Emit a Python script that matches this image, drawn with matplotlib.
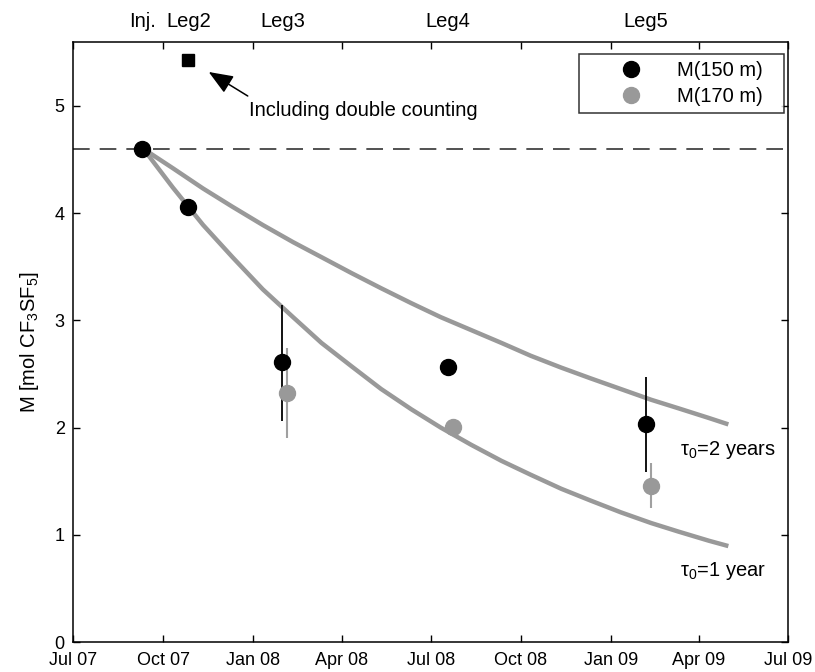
import numpy as np
import matplotlib
matplotlib.use("Agg")
import matplotlib.pyplot as plt
import matplotlib.dates as mdates
import matplotlib.transforms as mtransforms

plt.rcParams['font.family'] = ['Liberation Sans', 'DejaVu Sans']
plt.rcParams['mathtext.fontset'] = 'custom'
plt.rcParams['mathtext.rm'] = 'Liberation Sans'
plt.rcParams['mathtext.it'] = 'Liberation Sans:italic'

# --- data ---
inj_value = 4.6

leg_names = ["Inj.", "Leg2", "Leg3", "Leg4", "Leg5"]
leg_dates = ["2007-09-10", "2007-10-27", "2008-01-31", "2008-07-18", "2009-02-06"]

m150_dates = ["2007-09-10", "2007-10-27", "2008-01-31", "2008-07-18", "2009-02-06"]
m150_vals = [4.60, 4.06, 2.61, 2.57, 2.03]
m150_lo = [np.nan, np.nan, 2.06, np.nan, 1.59]
m150_hi = [np.nan, np.nan, 3.14, np.nan, 2.47]

m170_dates = ["2008-02-05", "2008-07-23", "2009-02-11"]
m170_vals = [2.32, 2.01, 1.46]
m170_lo = [1.90, np.nan, 1.25]
m170_hi = [2.74, np.nan, 1.67]

double_date = "2007-10-27"
double_value = 5.43

# model curves
curve_dates = ["2007-09-11", "2007-10-11", "2007-11-11", "2007-12-11", "2008-01-11",
               "2008-02-11", "2008-03-11", "2008-04-11", "2008-05-11", "2008-06-11",
               "2008-07-11", "2008-08-11", "2008-09-11", "2008-10-11", "2008-11-11",
               "2008-12-11", "2009-01-11", "2009-02-11", "2009-03-11", "2009-04-11",
               "2009-05-01"]
tau1_vals = [4.60, 4.24, 3.89, 3.59, 3.29, 3.03, 2.79, 2.57, 2.36, 2.17, 2.00,
             1.84, 1.69, 1.56, 1.43, 1.32, 1.21, 1.11, 1.03, 0.945, 0.895]
tau2_vals = [4.60, 4.42, 4.23, 4.06, 3.89, 3.73, 3.59, 3.44, 3.30, 3.16, 3.03,
             2.91, 2.79, 2.67, 2.56, 2.46, 2.36, 2.26, 2.18, 2.09, 2.03]

tick_dates = ["2007-07-01", "2007-10-01", "2008-01-01", "2008-04-01", "2008-07-01",
              "2008-10-01", "2009-01-01", "2009-04-01", "2009-07-01"]


def d(lst):
    return np.array(lst, dtype="datetime64[D]")


grey = "#999999"
fs = 14.5

fig = plt.figure(figsize=(8.15, 6.72), dpi=100)
ax = fig.add_axes([0.0896, 0.0446, 0.8773, 0.8934])

ax.axhline(inj_value, color="#333333", lw=1.2, ls=(0, (10, 6)), zorder=1)

ax.plot(d(curve_dates), tau2_vals, color=grey, lw=3.2, solid_capstyle="butt", zorder=2)
ax.plot(d(curve_dates), tau1_vals, color=grey, lw=3.2, solid_capstyle="butt", zorder=2)

# error bars
x150 = d(m150_dates)
ax.vlines(x150, m150_lo, m150_hi, color="black", lw=1.3, zorder=3)
x170 = d(m170_dates)
ax.vlines(x170, m170_lo, m170_hi, color="#a0a0a0", lw=1.5, zorder=3)

ax.plot(x150, m150_vals, "o", color="black", ms=11.5, zorder=4, label="M(150 m)")
ax.plot(x170, m170_vals, "o", color=grey, ms=11.5, zorder=4, label="M(170 m)")

sq = mdates.date2num(d([double_date])[0])
ax.plot([sq], [double_value], "s", color="black", ms=9, zorder=4)
tip_tr = mtransforms.offset_copy(ax.transData, fig=fig, x=14.6, y=-8.7, units="points")
ax.annotate("", xy=(sq, double_value), xycoords=tip_tr,
            xytext=(28.1, -17.3), textcoords="offset points",
            arrowprops=dict(arrowstyle="-|>,head_length=0.75,head_width=0.3",
                            mutation_scale=20, lw=1.1, color="black",
                            shrinkA=0, shrinkB=0),
            zorder=5)
ax.annotate("Including double counting", xy=(sq, double_value), xytext=(43.9, -36.7),
            textcoords="offset points", ha="left", va="center", fontsize=fs)

# leg labels above the axes
trans = mtransforms.blended_transform_factory(ax.transData, ax.transAxes)
for name, ld in zip(leg_names, d(leg_dates)):
    ax.text(ld, 1.033, name, transform=trans, ha="center", va="center", fontsize=fs)

ax.text(0.849, 0.3115, "τ$_0$=2 years", transform=ax.transAxes, ha="left",
        va="baseline", fontsize=fs)
ax.text(0.849, 0.1104, "τ$_0$=1 year", transform=ax.transAxes, ha="left",
        va="baseline", fontsize=fs)

ax.set_xlim(d(["2007-07-01"])[0], d(["2009-07-01"])[0])
ax.set_ylim(0, 5.6)
ax.set_xticks(d(tick_dates))
ax.xaxis.set_major_formatter(mdates.DateFormatter("%b %y"))
ax.set_yticks([0, 1, 2, 3, 4, 5])
ax.tick_params(direction="in", top=True, right=True, length=5, width=1,
               labelsize=13)
ax.tick_params(axis="x", pad=7.5)
ax.tick_params(axis="y", pad=6)
for s in ax.spines.values():
    s.set_linewidth(1.1)

ax.set_ylabel("M [mol CF$_3$SF$_5$]", fontsize=fs, labelpad=10)

leg = ax.legend(loc="upper left", bbox_to_anchor=(0.7077, 0.8812, 0.2867, 0.0983),
                mode="expand", borderaxespad=0, fancybox=False, edgecolor="black",
                fontsize=fs, borderpad=0.35, labelspacing=0.35,
                handlelength=4.5, handletextpad=0.0)
leg.get_frame().set_linewidth(1.1)

fig.savefig("out.png", dpi=100)
